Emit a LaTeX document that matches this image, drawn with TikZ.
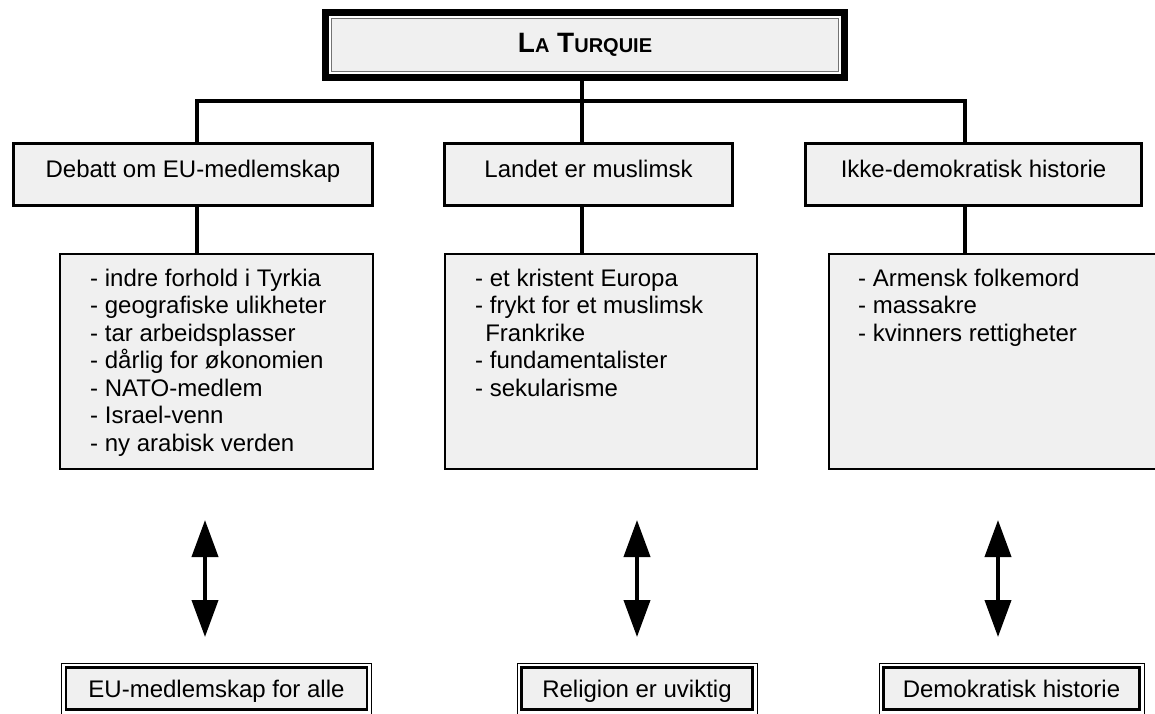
\documentclass[tikz,border=0pt]{standalone}
\usepackage{fontspec}
\setmainfont{Liberation Sans}
\usetikzlibrary{arrows.meta}
\definecolor{boxfill}{HTML}{F0F0F0}
\begin{document}
\begin{tikzpicture}[x=1pt,y=-1pt,
  title/.style={draw, line width=7pt, fill=boxfill, minimum width=519pt, minimum height=65pt, inner sep=0pt, outer sep=0pt},
  midbox/.style={draw, line width=3.3pt, fill=boxfill, inner sep=0pt, outer sep=0pt, minimum height=61.7pt, text height=17.5pt, text depth=12pt, font=\fontsize{24}{27.5}\selectfont},
  listbox/.style={draw, line width=2pt, fill=boxfill, inner sep=0pt, outer sep=0pt, minimum height=215pt},
  listtext/.style={anchor=north west, inner sep=0pt, align=left, font=\fontsize{24}{27.5}\selectfont},
  endbox/.style={draw, line width=2.5pt, fill=boxfill, inner sep=0pt, outer sep=0pt, minimum height=42pt, text height=17.5pt, text depth=0pt, font=\fontsize{24}{27.5}\selectfont},
  conn/.style={line width=4pt, line join=miter},
  dblarrow/.style={line width=4pt, {Triangle[length=37pt,width=26pt]}-{Triangle[length=37pt,width=26pt]}}
]
\useasboundingbox (0,0) rectangle (1155,713);

% title
\node[title] (T) at (585,45) {\bfseries\fontsize{28}{30}\selectfont L{\fontsize{20}{22}\selectfont A} T{\fontsize{20}{22}\selectfont URQUIE}};
\draw[white, line width=1.5pt] ([shift={(4.3,4.3)}]T.north west) rectangle ([shift={(-4.3,-4.3)}]T.south east);
\draw[black!55, line width=1pt] ([shift={(6,6)}]T.north west) rectangle ([shift={(-6,-6)}]T.south east);

% junction coordinates
\coordinate (J1) at (197,101);
\coordinate (J2) at (582,101);
\coordinate (J3) at (965,101);

% middle boxes
\node[midbox, minimum width=358.7pt] (M1) at (193,174.5) {Debatt om EU-medlemskap};
\node[midbox, minimum width=287.7pt] (M2) at (588.5,174.5) {Landet er muslimsk};
\node[midbox, minimum width=335.7pt] (M3) at (973.5,174.5) {Ikke-demokratisk historie};

% list boxes
\node[listbox, minimum width=313pt] (L1) at (216.5,361.5) {};
\node[listbox, minimum width=312pt] (L2) at (601,361.5) {};
\node[listbox, minimum width=330pt] (L3) at (994,361.5) {};

\node[listtext] (X1) at (90,268.5) {- indre forhold i Tyrkia\\- geografiske ulikheter\\- tar arbeidsplasser\\- dårlig for økonomien\\- NATO-medlem\\- Israel-venn\\- ny arabisk verden};
\node[listtext] (X2) at (475,268.5) {- et kristent Europa\\- frykt for et muslimsk\\\hspace*{0.42em}Frankrike\\- fundamentalister\\- sekularisme};
\node[listtext] (X3) at (858,268.5) {- Armensk folkemord\\- massakre\\- kvinners rettigheter};

% connectors
\draw[conn] (M1.north -| J1) |- (J3) -- (M3.north -| J3);
\draw[conn] (T.south -| J2) -- (M2.north -| J2);
\draw[conn] (M1.south -| J1) -- (L1.north -| J1);
\draw[conn] (M2.south -| J2) -- (L2.north -| J2);
\draw[conn] (M3.south -| J3) -- (L3.north -| J3);

% bottom boxes
\node[endbox, minimum width=301pt] (B1) at (216.5,688.5) {EU-medlemskap for alle};
\node[endbox, minimum width=231pt] (B2) at (637,688.5) {Religion er uviktig};
\node[endbox, minimum width=256pt] (B3) at (1011.5,688.5) {Demokratisk historie};
\foreach \b in {B1,B2,B3}{
  \draw[line width=1pt] ([shift={(-4.5,-4.5)}]\b.north west) rectangle ([shift={(4.5,4.5)}]\b.south east);
}

% double arrows
\coordinate (A1t) at (205,520); \coordinate (A1b) at (205,637);
\coordinate (A2t) at (637,520); \coordinate (A2b) at (637,637);
\coordinate (A3t) at (998,520); \coordinate (A3b) at (998,637);
\draw[dblarrow] (A1t) -- (A1b);
\draw[dblarrow] (A2t) -- (A2b);
\draw[dblarrow] (A3t) -- (A3b);
\end{tikzpicture}
\end{document}
